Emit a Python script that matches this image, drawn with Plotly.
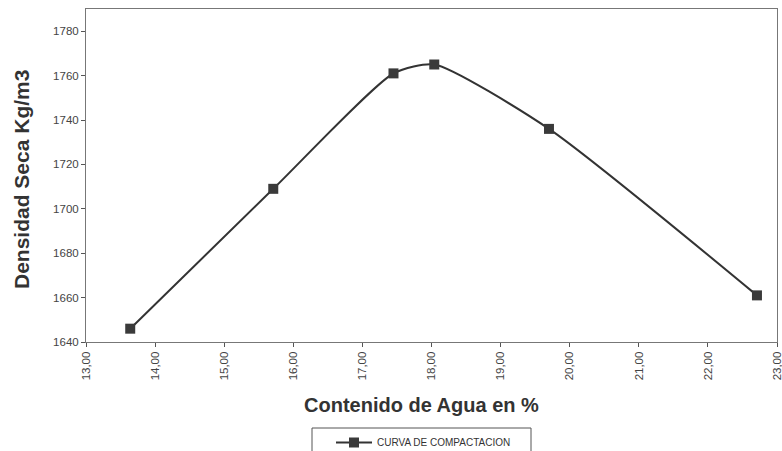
import plotly.graph_objects as go

# Compaction test results
humedad = [13.64, 15.71, 17.45, 18.04, 19.70, 22.71]
densidad = [1646, 1709, 1761, 1765, 1736, 1661]
x_ticks = [13, 14, 15, 16, 17, 18, 19, 20, 21, 22, 23]
x_labels = ["13,00", "14,00", "15,00", "16,00", "17,00", "18,00", "19,00",
            "20,00", "21,00", "22,00", "23,00"]
y_ticks = [1640, 1660, 1680, 1700, 1720, 1740, 1760, 1780]

W, H = 782, 451
L, R, T, B = 86, 5, 9, 109
PW, PH = W - L - R, H - T - B


def px(x):
    return (x - L) / PW


def py(y):
    return (H - B - y) / PH


fig = go.Figure()
fig.add_trace(go.Scatter(
    x=humedad, y=densidad, mode="lines+markers",
    name="CURVA DE COMPACTACION",
    line=dict(color="#333333", width=2, shape="spline", smoothing=0.6),
    marker=dict(symbol="square", size=10, color="#3a3a3a"),
))

fig.update_layout(
    width=W, height=H,
    margin=dict(l=L, r=R, t=T, b=B, autoexpand=False),
    paper_bgcolor="white", plot_bgcolor="white",
    font=dict(family="Liberation Sans, Arial, sans-serif", color="#333333"),
    showlegend=True,
    legend=dict(
        xref="container", yref="container", x=331 / W, y=1 - 428 / H,
        xanchor="left", yanchor="top",
        borderwidth=0, bgcolor="rgba(0,0,0,0)",
        font=dict(size=10, color="#333333"),
        itemwidth=36,
    ),
    shapes=[dict(
        type="rect", xref="paper", yref="paper",
        x0=px(312), x1=px(531), y0=py(462), y1=py(428),
        line=dict(color="#555555", width=1), fillcolor="rgba(0,0,0,0)",
    )],
    annotations=[
        dict(text="<b>Contenido de Agua en %</b>", xref="paper", yref="paper",
             x=px(421), y=py(405), xanchor="center", yanchor="middle",
             showarrow=False, font=dict(size=20, color="#333333")),
        dict(text="<b>Densidad Seca Kg/m3</b>", xref="paper", yref="paper",
             x=px(21), y=py(180), xanchor="center", yanchor="middle",
             showarrow=False, textangle=-90,
             font=dict(size=21, color="#333333")),
    ],
)
fig.update_xaxes(
    range=[13, 23], tickvals=x_ticks, ticktext=x_labels, tickangle=-90,
    tickfont=dict(size=11.5, color="#444444"), ticklabeloverflow="allow",
    ticks="outside", ticklen=4, tickcolor="#555555",
    showline=True, linecolor="#777777", linewidth=1, mirror=True,
    showgrid=False, zeroline=False, automargin=False,
)
fig.update_yaxes(
    range=[1640, 1790], tickvals=y_ticks,
    tickfont=dict(size=11.5, color="#444444"),
    ticks="outside", ticklen=4, tickcolor="#555555",
    showline=True, linecolor="#777777", linewidth=1, mirror=True,
    showgrid=False, zeroline=False, automargin=False,
)

fig.write_html("out.html")
